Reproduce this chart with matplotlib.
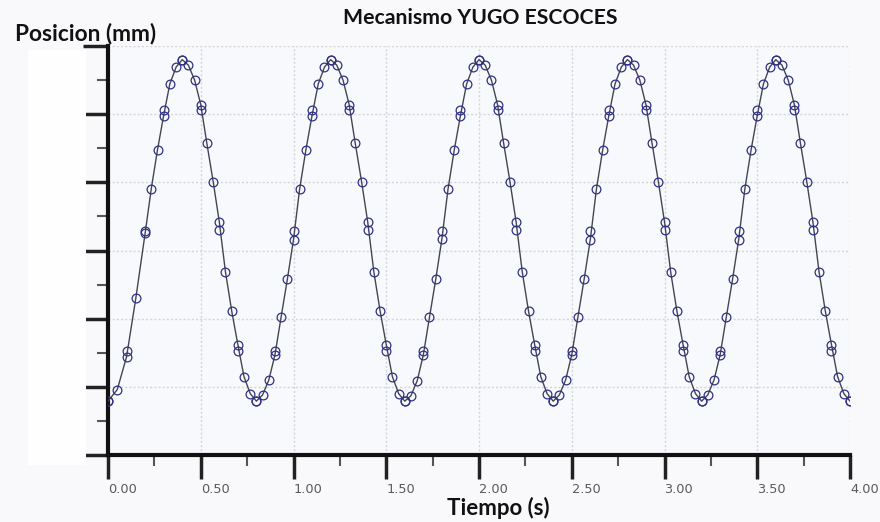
import matplotlib
matplotlib.use("Agg")
import matplotlib.pyplot as plt
from matplotlib.ticker import MultipleLocator, FixedLocator
from matplotlib.patches import Rectangle
import matplotlib.transforms as mtransforms

# ---------------- data ----------------
titulo = "Mecanismo YUGO ESCOCES"
etiqueta_y = "Posicion (mm)"
etiqueta_x = "Tiempo (s)"
ticks_x = [0.0, 0.5, 1.0, 1.5, 2.0, 2.5, 3.0, 3.5, 4.0]
etiquetas_x = ["0.00", "0.50", "1.00", "1.50", "2.00", "2.50", "3.00", "3.50", "4.00"]

# fine sampled series (line + markers)
t_fino = [0.000, 0.050, 0.100, 0.150, 0.200, 0.233, 0.267, 0.300, 0.333, 0.367,
          0.400, 0.433, 0.467, 0.500, 0.533, 0.567, 0.600, 0.633, 0.667, 0.700,
          0.733, 0.767, 0.800,
          0.833, 0.867, 0.900, 0.933, 0.967, 1.000, 1.033, 1.067, 1.100, 1.133,
          1.167, 1.200, 1.233, 1.267, 1.300, 1.333, 1.367, 1.400, 1.433, 1.467,
          1.500, 1.533, 1.567, 1.600,
          1.633, 1.667, 1.700, 1.733, 1.767, 1.800, 1.833, 1.867, 1.900, 1.933,
          1.967, 2.000, 2.033, 2.067, 2.100, 2.133, 2.167, 2.200, 2.233, 2.267,
          2.300, 2.333, 2.367, 2.400,
          2.433, 2.467, 2.500, 2.533, 2.567, 2.600, 2.633, 2.667, 2.700, 2.733,
          2.767, 2.800, 2.833, 2.867, 2.900, 2.933, 2.967, 3.000, 3.033, 3.067,
          3.100, 3.133, 3.167, 3.200,
          3.233, 3.267, 3.300, 3.333, 3.367, 3.400, 3.433, 3.467, 3.500, 3.533,
          3.567, 3.600, 3.633, 3.667, 3.700, 3.733, 3.767, 3.800, 3.833, 3.867,
          3.900, 3.933, 3.967, 4.000]
y_fino = [0.79, 0.96, 1.44, 2.30, 3.25, 3.90, 4.48, 4.98, 5.44, 5.69,
          5.80, 5.72, 5.50, 5.14, 4.57, 4.01, 3.42, 2.69, 2.11, 1.62,
          1.15, 0.90, 0.79,
          0.88, 1.10, 1.47, 2.02, 2.58, 3.16, 3.90, 4.48, 4.98, 5.44,
          5.69, 5.80, 5.72, 5.50, 5.14, 4.57, 4.01, 3.42, 2.69, 2.11,
          1.62, 1.15, 0.90, 0.79,
          0.87, 1.09, 1.47, 2.02, 2.58, 3.17, 3.90, 4.48, 4.98, 5.44,
          5.69, 5.80, 5.72, 5.50, 5.14, 4.57, 4.01, 3.42, 2.69, 2.11,
          1.62, 1.15, 0.90, 0.79,
          0.88, 1.10, 1.47, 2.02, 2.58, 3.16, 3.90, 4.48, 4.98, 5.44,
          5.69, 5.80, 5.72, 5.50, 5.14, 4.57, 4.01, 3.42, 2.69, 2.11,
          1.62, 1.15, 0.90, 0.79,
          0.88, 1.10, 1.47, 2.02, 2.58, 3.16, 3.90, 4.48, 4.98, 5.44,
          5.69, 5.80, 5.72, 5.50, 5.14, 4.57, 4.01, 3.42, 2.69, 2.11,
          1.62, 1.15, 0.90, 0.79]

# coarse series (markers every 0.1 s)
t_grueso = [0.0, 0.1, 0.2, 0.3, 0.4, 0.5, 0.6, 0.7, 0.8, 0.9,
            1.0, 1.1, 1.2, 1.3, 1.4, 1.5, 1.6, 1.7, 1.8, 1.9,
            2.0, 2.1, 2.2, 2.3, 2.4, 2.5, 2.6, 2.7, 2.8, 2.9,
            3.0, 3.1, 3.2, 3.3, 3.4, 3.5, 3.6, 3.7, 3.8, 3.9, 4.0]
y_grueso = [0.79, 1.52, 3.29, 5.06, 5.80, 5.06, 3.30, 1.52, 0.79, 1.52,
            3.29, 5.06, 5.80, 5.06, 3.30, 1.52, 0.79, 1.52, 3.29, 5.06,
            5.80, 5.06, 3.30, 1.52, 0.79, 1.52, 3.29, 5.06, 5.80, 5.06,
            3.30, 1.52, 0.79, 1.52, 3.29, 5.06, 5.80, 5.06, 3.30, 1.52, 0.79]

# ---------------- figure ----------------
W, H = 880, 522
fig = plt.figure(figsize=(W / 100, H / 100), dpi=100)
fig.patch.set_facecolor("#f9f9fb")

# whitened block on the left (as in the reference picture)
fig.patches.append(Rectangle((28 / W, 1 - 465 / H), 58 / W, 415 / H,
                             transform=fig.transFigure, facecolor="#fefefe",
                             edgecolor="none", zorder=0))

ax = fig.add_axes([108 / W, 1 - 455 / H, (850 - 108) / W, (455 - 46) / H])
ax.set_facecolor("#f8f9fc")
ax.set_xlim(0, 4)
ax.set_ylim(0, 6)

ax.plot(t_fino, y_fino, color="#45454f", lw=1.0, zorder=3)
ax.plot(t_fino, y_fino, ls="none", marker="o", ms=6.3, mfc="none",
        mec="#303085", mew=0.9, zorder=4)
ax.plot(t_grueso, y_grueso, ls="none", marker="o", ms=6.3, mfc="none",
        mec="#303085", mew=0.9, zorder=4)

for s in ["top", "right"]:
    ax.spines[s].set_visible(False)
for s in ["left", "bottom"]:
    ax.spines[s].set_linewidth(3)
    ax.spines[s].set_color("#111111")

ax.xaxis.set_major_locator(FixedLocator(ticks_x))
ax.xaxis.set_minor_locator(MultipleLocator(0.25))
ax.yaxis.set_major_locator(MultipleLocator(1))
ax.yaxis.set_minor_locator(MultipleLocator(0.5))
ax.set_xticklabels(etiquetas_x, ha="left", color="#5a5a5a",
                   fontsize=9.3, family="DejaVu Sans")
off = mtransforms.ScaledTranslation(-4 / 100, 0, fig.dpi_scale_trans)
for lab in ax.get_xticklabels():
    lab.set_transform(lab.get_transform() + off)
ax.set_yticklabels([])

ax.tick_params(axis="x", which="major", direction="out", length=17, width=2.5,
               color="#222222", pad=3)
ax.tick_params(axis="x", which="minor", direction="out", length=8, width=1.5,
               color="#555555")
ax.tick_params(axis="y", which="major", direction="out", length=18, width=2.5,
               color="#222222")
ax.tick_params(axis="y", which="minor", direction="out", length=8, width=1.5,
               color="#555555")

ax.grid(True, which="major", color="#d4d4dc", lw=1.0, ls=(0, (1.5, 1.5)))
ax.set_axisbelow(True)

fig.text(480 / W, 1 - 18 / H, titulo, ha="center", va="center",
         fontsize=15.3, fontweight="bold", family="Lato", color="#111111")
fig.text(15 / W, 1 - 34 / H, etiqueta_y, ha="left", va="center",
         fontsize=16.3, fontweight="bold", family="Lato", color="#111111")
fig.text(498 / W, 1 - 508 / H, etiqueta_x, ha="center", va="center",
         fontsize=16, fontweight="bold", family="Lato", color="#111111")

fig.savefig("out.png", dpi=100, facecolor=fig.get_facecolor())
